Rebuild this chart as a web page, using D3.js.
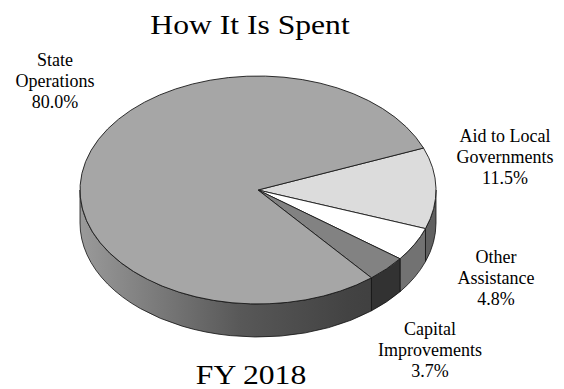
<!DOCTYPE html>
<html>
<head>
<meta charset="utf-8">
<script src="https://cdn.jsdelivr.net/npm/d3@7"></script>
<style>
  html, body { margin: 0; padding: 0; background: #fff; }
  svg { display: block; }
  text { font-family: "Liberation Serif", "Times New Roman", serif; fill: #000; }
</style>
</head>
<body>
<svg id="chart" width="564" height="389"></svg>
<script>
// Spending shares, FY 2018
const categories = ["Aid to Local Governments", "Other Assistance", "Capital Improvements", "State Operations"];
const labelLines = [["Aid to Local", "Governments"], ["Other", "Assistance"], ["Capital", "Improvements"], ["State", "Operations"]];
const shares = [11.5, 4.8, 3.7, 80.0];

const topColors  = ["#dcdcdc", "#ffffff", "#828282", "#a6a6a6"];
const sideColors = ["#606060", "#727272", "#323232", "url(#sideGrad)"];

// label anchors (centre x, first baseline y)
const labelAnchor = [[505, 142], [496, 263], [430, 335], [55, 66]];

const W = 564, H = 389;
const cx = 258, cy = 190, rx = 178, ry = 114, depth = 33;

const svg = d3.select("#chart");

const defs = svg.append("defs");
const grad = defs.append("linearGradient")
  .attr("id", "sideGrad")
  .attr("gradientUnits", "userSpaceOnUse")
  .attr("x1", cx - rx).attr("x2", cx + rx).attr("y1", 0).attr("y2", 0);
grad.append("stop").attr("offset", "0%").attr("stop-color", "#9a9a9a");
grad.append("stop").attr("offset", "45%").attr("stop-color", "#585858");
grad.append("stop").attr("offset", "75%").attr("stop-color", "#434343");
grad.append("stop").attr("offset", "100%").attr("stop-color", "#3a3a3a");

// pie angles: 0 = 12 o'clock, clockwise
const start = 68.4 * Math.PI / 180;
const pie = d3.pie().sort(null).value(d => d).startAngle(start).endAngle(start + 2 * Math.PI);
const arcs = pie(shares);

const px = a => cx + rx * Math.sin(a);
const py = (a, dz = 0) => cy - ry * Math.cos(a) + dz;

function topPath(a0, a1) {
  const large = (a1 - a0) > Math.PI ? 1 : 0;
  return `M${cx},${cy}L${px(a0)},${py(a0)}A${rx},${ry} 0 ${large} 1 ${px(a1)},${py(a1)}Z`;
}

function sidePath(a0, a1) {
  const large = (a1 - a0) > Math.PI ? 1 : 0;
  return `M${px(a0)},${py(a0)}A${rx},${ry} 0 ${large} 1 ${px(a1)},${py(a1)}` +
         `L${px(a1)},${py(a1, depth)}A${rx},${ry} 0 ${large} 0 ${px(a0)},${py(a0, depth)}Z`;
}

// visible (front) part of the rim: angles between PI/2 and 3PI/2 (mod 2PI)
function frontRange(a0, a1) {
  const parts = [];
  for (let k = -1; k <= 1; k++) {
    const lo = Math.PI / 2 + 2 * Math.PI * k, hi = 3 * Math.PI / 2 + 2 * Math.PI * k;
    const s = Math.max(a0, lo), e = Math.min(a1, hi);
    if (e > s) parts.push([s, e]);
  }
  return parts;
}

const g = svg.append("g");

// side walls
arcs.forEach((d, i) => {
  frontRange(d.startAngle, d.endAngle).forEach(([s, e]) => {
    g.append("path")
      .attr("d", sidePath(s, e))
      .attr("fill", sideColors[i])
      .attr("stroke", "#111")
      .attr("stroke-width", 0.8)
      .attr("stroke-linejoin", "round");
  });
});

// top faces
arcs.forEach((d, i) => {
  g.append("path")
    .attr("d", topPath(d.startAngle, d.endAngle))
    .attr("fill", topColors[i])
    .attr("stroke", "#1a1a1a")
    .attr("stroke-width", 0.9)
    .attr("stroke-linejoin", "round");
});

function serifText(txt, x, y, size, sx = 1) {
  return svg.append("text")
    .attr("transform", `translate(${x},${y}) scale(${sx},1)`)
    .attr("text-anchor", "middle")
    .attr("font-family", "Liberation Serif, Times New Roman, serif")
    .attr("font-size", size)
    .text(txt);
}

// category labels
const fmt = d3.format(".1f");
arcs.forEach((d, i) => {
  const [lx, ly] = labelAnchor[i];
  labelLines[i].concat([fmt(shares[i]) + "%"]).forEach((line, j) => {
    serifText(line, lx, ly + j * 20.8, 18);
  });
});

// titles (slightly widened type)
serifText("How It Is Spent", 250, 34, 28, 1.13);
serifText("FY 2018", 251, 384, 28, 1.13);
</script>
</body>
</html>
